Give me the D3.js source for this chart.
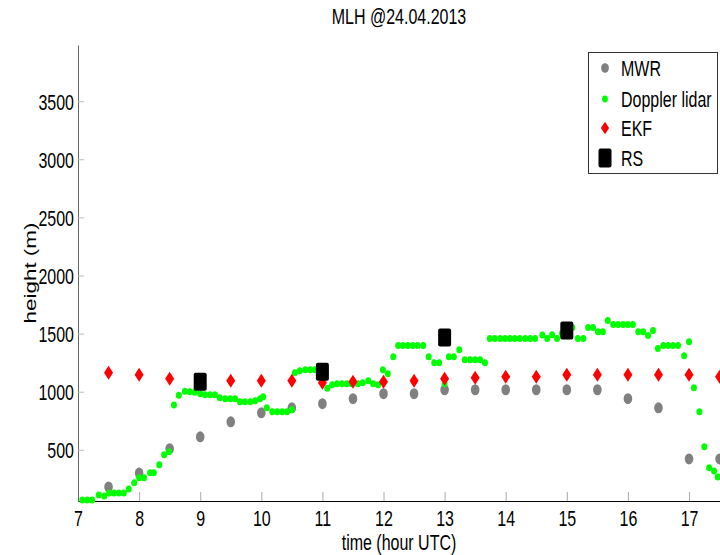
<!DOCTYPE html>
<html>
<head>
<meta charset="utf-8">
<script src="https://cdn.jsdelivr.net/npm/d3@7"></script>
<style>
	body { margin: 0; background: #fff; }
	text { font-family: "Liberation Sans", Arial, sans-serif; font-size: 16px; fill: #000; }
</style>
</head>
<body>
<div id="chart"></div>
<script>

// MLH values (hour UTC, metres)
var mwrHour= [7.5, 8, 8.5, 9, 9.5, 10, 10.5, 11, 11.5, 12, 12.5, 13, 13.5, 14, 14.5, 15, 15.5, 16, 16.5, 17, 17.5];
var mwrHeight= [181, 300, 510, 612, 741, 819, 862, 897, 940, 983, 983, 1017, 1017, 1017, 1017, 1017, 1017, 940, 862, 422, 422];

var ekfHour= mwrHour;
var ekfHeight= [1164, 1147, 1112, 1100, 1095, 1095, 1095, 1078, 1086, 1086, 1095, 1112, 1120, 1129, 1129, 1147, 1147, 1147, 1147, 1147, 1129];

var rsHour= [9, 11, 13, 15];
var rsHeight= [1086, 1172, 1466, 1526];

var lidarHour= [7.07, 7.15, 7.23, 7.34, 7.43, 7.51, 7.59, 7.67, 7.75, 7.83, 7.92, 8.0, 8.08, 8.18, 8.24, 8.33, 8.41, 8.49, 8.57, 8.65,
	8.75, 8.83, 8.91, 9.0, 9.08, 9.16, 9.24, 9.32, 9.41, 9.49, 9.57, 9.65, 9.73, 9.82, 9.9, 9.98, 10.03, 10.09, 10.18, 10.26,
	10.34, 10.42, 10.5, 10.55, 10.63, 10.72, 10.8, 10.88, 10.96, 11.08, 11.16, 11.24, 11.32, 11.4, 11.48, 11.58, 11.66, 11.75, 11.83, 11.91,
	11.99, 12.07, 12.16, 12.24, 12.32, 12.4, 12.48, 12.56, 12.65, 12.74, 12.83, 12.91, 13.0, 13.07, 13.15, 13.24, 13.33, 13.42, 13.5, 13.58,
	13.66, 13.74, 13.82, 13.91, 13.99, 14.07, 14.15, 14.23, 14.32, 14.4, 14.48, 14.6, 14.68, 14.76, 14.84, 14.92, 15.0, 15.09, 15.18, 15.27,
	15.35, 15.43, 15.51, 15.59, 15.67, 15.76, 15.84, 15.92, 16.0, 16.08, 16.17, 16.25, 16.33, 16.41, 16.49, 16.58, 16.66, 16.74, 16.82, 16.92,
	17.0, 17.08, 17.17, 17.25, 17.33, 17.41, 17.47];
var lidarHeight= [69, 69, 69, 112, 103, 129, 129, 129, 129, 164, 216, 259, 259, 302, 302, 371, 457, 483, 885, 970,
	1005, 1000, 995, 983, 974, 974, 974, 948, 940, 940, 940, 914, 914, 914, 922, 940, 957, 862, 828, 828,
	828, 828, 845, 1164, 1181, 1190, 1190, 1190, 1181, 1030, 1060, 1069, 1069, 1069, 1069, 1069, 1078, 1095, 1069, 1060,
	1190, 1155, 1302, 1397, 1397, 1397, 1397, 1397, 1397, 1302, 1250, 1250, 1069, 1302, 1302, 1362, 1276, 1276, 1276, 1276,
	1250, 1457, 1457, 1457, 1457, 1457, 1457, 1457, 1457, 1457, 1457, 1488, 1457, 1491, 1457, 1500, 1543, 1552, 1457, 1457,
	1552, 1552, 1517, 1517, 1612, 1578, 1578, 1578, 1578, 1578, 1517, 1517, 1483, 1526, 1371, 1397, 1397, 1397, 1397, 1310,
	1431, 1034, 828, 526, 345, 319, 267];

var xTicks= [7, 8, 9, 10, 11, 12, 13, 14, 15, 16, 17];
var yTicks= [500, 1000, 1500, 2000, 2500, 3000, 3500];

var legendLabels= ["MWR", "Doppler lidar", "EKF", "RS"];

function draw_chart() {

	var width= 720, height= 555;
	var stretch= "scale(1,1.4)";

	var svg= d3.select("#chart")
		.append("svg")
		.attr("width", width)
		.attr("height", height);

	var x= d3.scaleLinear().domain([7, 17.507]).range([78, 720]);
	var y= d3.scaleLinear().domain([60, 3983]).range([501, 45]);

	// axes, ticks pointing inward like matlab
	var xAxis= svg.append("g")
		.attr("transform", "translate(0,501)")
		.call(d3.axisBottom(x).tickValues(xTicks).tickFormat(d3.format("d")).tickSizeInner(-9).tickSizeOuter(0));
	xAxis.select(".domain").attr("stroke", "#000");
	xAxis.selectAll(".tick line").attr("stroke", "#aaa");
	xAxis.selectAll(".tick text")
		.attr("y", 0).attr("dy", null)
		.attr("transform", "translate(0,25) " + stretch)
		.style("font-size", "16px");

	var yAxis= svg.append("g")
		.attr("transform", "translate(78,0)")
		.call(d3.axisLeft(y).tickValues(yTicks).tickFormat(d3.format("d")).tickSizeInner(-6).tickSizeOuter(0).tickPadding(4));
	yAxis.select(".domain").attr("stroke", "#666");
	yAxis.selectAll(".tick line").attr("stroke", "#bbb");
	yAxis.selectAll(".tick text")
		.attr("y", 0).attr("dy", null)
		.attr("transform", "translate(0,8) " + stretch)
		.style("font-size", "16px");

	// title and axis labels
	svg.append("text")
		.attr("transform", "translate(399,24) " + stretch)
		.style("text-anchor", "middle")
		.text("MLH @24.04.2013");

	svg.append("text")
		.attr("transform", "translate(399,550) " + stretch)
		.style("text-anchor", "middle")
		.text("time (hour UTC)");

	svg.append("text")
		.attr("transform", "translate(36,273) " + stretch + " rotate(-90)")
		.style("text-anchor", "middle")
		.text("height (m)");

	var plot= svg.append("g");

	plot.selectAll(".mwr")
		.data(d3.zip(mwrHour, mwrHeight))
		.enter().append("ellipse")
			.attr("cx", function(d) { return x(d[0]); })
			.attr("cy", function(d) { return y(d[1]); })
			.attr("rx", 4.3).attr("ry", 5.5)
			.attr("fill", "#808080");

	plot.selectAll(".lidar")
		.data(d3.zip(lidarHour, lidarHeight))
		.enter().append("ellipse")
			.attr("cx", function(d) { return x(d[0]); })
			.attr("cy", function(d) { return y(d[1]); })
			.attr("rx", 3).attr("ry", 3.5)
			.attr("fill", "#00ff00");

	var diamond= "M0,-7L4.5,0L0,7L-4.5,0Z";

	plot.selectAll(".ekf")
		.data(d3.zip(ekfHour, ekfHeight))
		.enter().append("path")
			.attr("d", diamond)
			.attr("transform", function(d) { return "translate(" + x(d[0]) + "," + y(d[1]) + ")"; })
			.attr("fill", "#ff0000");

	plot.selectAll(".rs")
		.data(d3.zip(rsHour, rsHeight))
		.enter().append("rect")
			.attr("x", function(d) { return x(d[0])- 6.5; })
			.attr("y", function(d) { return y(d[1])- 9; })
			.attr("width", 13).attr("height", 18)
			.attr("rx", 2)
			.attr("fill", "#000");

	// legend
	var legend= svg.append("g");
	legend.append("rect")
		.attr("x", 588.5).attr("y", 52.5)
		.attr("width", 129).attr("height", 121)
		.attr("fill", "#fff")
		.attr("stroke", "#333");

	var rowY= [68, 99, 128, 158];

	legend.append("ellipse").attr("cx", 605).attr("cy", rowY[0]).attr("rx", 3.9).attr("ry", 4.8).attr("fill", "#808080");
	legend.append("ellipse").attr("cx", 605).attr("cy", rowY[1]).attr("rx", 2.9).attr("ry", 3.4).attr("fill", "#00ff00");
	legend.append("path").attr("d", diamond).attr("transform", "translate(605," + rowY[2] + ") scale(0.92,0.9)").attr("fill", "#ff0000");
	legend.append("rect").attr("x", 598.5).attr("y", rowY[3]- 9.5).attr("width", 13).attr("height", 19).attr("rx", 2).attr("fill", "#000");

	legend.selectAll(".lbl")
		.data(legendLabels)
		.enter().append("text")
			.attr("transform", function(d, i) { return "translate(621," + (rowY[i]+ 8) + ") " + stretch; })
			.text(function(d) { return d; });
};

draw_chart();
</script>
</body>
</html>
